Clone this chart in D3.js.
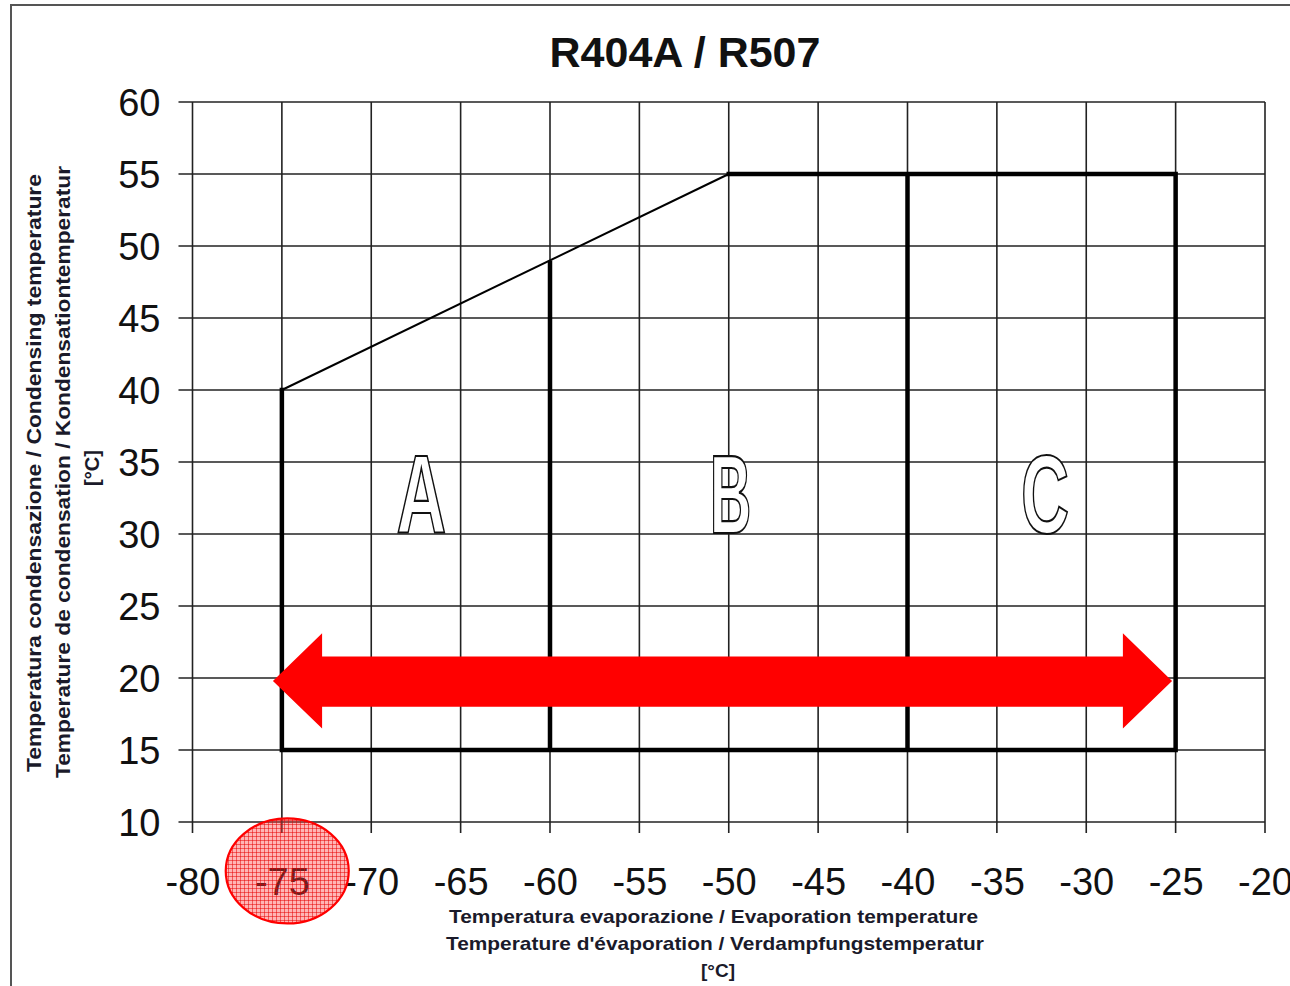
<!DOCTYPE html>
<html><head><meta charset="utf-8">
<script src="https://cdn.jsdelivr.net/npm/d3@7/dist/d3.min.js"></script>
<style>html,body{margin:0;padding:0;background:#fff;overflow:hidden}</style>
</head><body>
<svg id="c" width="1290" height="986"></svg>
<script>
// ---- data ----
const title = "R404A / R507";
const xTicks = [-80,-75,-70,-65,-60,-55,-50,-45,-40,-35,-30,-25,-20];
const yTicks = [10,15,20,25,30,35,40,45,50,55,60];
const xTitleLines = ["Temperatura evaporazione / Evaporation temperature",
                     "Temperature d'évaporation / Verdampfungstemperatur","[°C]"];
const yTitleLines = ["Temperatura condensazione / Condensing temperature",
                     "Temperature de condensation / Kondensationtemperatur","[°C]"];
// envelope outline (thick part)
const envX = [-50,-25,-25,-75,-75];
const envY = [ 55, 55, 15, 15, 40];
// diagonal (thin)
const diagX = [-75,-50];
const diagY = [ 40, 55];
// zone dividers
const divX = [-60,-40];
const divTop = [49,55];
const divBottom = [15,15];
// zone labels
const zoneNames = ["A","B","C"];
const zoneX = [-67.2,-49.9,-32.3];
const zoneY = [30.1,30.1,30.1];
// red double arrow
const arrowX = [-75.5,-72.75,-72.75,-27.95,-27.95,-25.2,-27.95,-27.95,-72.75,-72.75];
const arrowY = [19.8,23.1,21.5,21.5,23.1,19.8,16.5,18.0,18.0,16.5];
// highlight marker
const markX = -74.7, markY = 6.6;

// ---- layout ----
const svg = d3.select("#c");
const x = d3.scaleLinear().domain([-80,-20]).range([192.5,1265]);
const y = d3.scaleLinear().domain([10,60]).range([822,102]);

// outer frame
svg.append("rect").attr("x",11).attr("y",5).attr("width",1320).attr("height",1020)
  .attr("fill","none").attr("stroke","#555").attr("stroke-width",2);

// title
svg.append("text").attr("x",685).attr("y",67).attr("text-anchor","middle")
  .attr("font-family","Liberation Sans, Arial, sans-serif").attr("font-weight","bold")
  .attr("font-size",43).attr("fill","#111").text(title);

// grid
const g = svg.append("g");
g.selectAll(".vg").data(xTicks).join("line")
  .attr("x1",d=>x(d)).attr("x2",d=>x(d)).attr("y1",y(60)).attr("y2",y(10)+11)
  .attr("stroke","#222").attr("stroke-width",1.6);
g.selectAll(".hg").data(yTicks).join("line")
  .attr("x1",x(-80)-14).attr("x2",x(-20)).attr("y1",d=>y(d)).attr("y2",d=>y(d))
  .attr("stroke","#222").attr("stroke-width",1.6);

// axes labels via d3 axes (no domain lines, ticks handled above)
const fmt = d => String(d);
const xa = svg.append("g").attr("transform",`translate(0,${y(10)})`)
  .call(d3.axisBottom(x).tickValues(xTicks).tickSize(0).tickPadding(0).tickFormat(fmt));
xa.select(".domain").remove();
xa.selectAll("text").attr("y",null).attr("dy",null).attr("transform","translate(0,73)")
  .attr("font-family","Liberation Sans, Arial, sans-serif").attr("font-size",38).attr("fill","#111");
const ya = svg.append("g").attr("transform",`translate(${x(-80)},0)`)
  .call(d3.axisLeft(y).tickValues(yTicks).tickSize(0).tickPadding(32).tickFormat(fmt));
ya.select(".domain").remove();
ya.selectAll("text").attr("dy","0.36em")
  .attr("font-family","Liberation Sans, Arial, sans-serif").attr("font-size",38).attr("fill","#111");

// envelope
const line = d3.line().x(d=>x(d[0])).y(d=>y(d[1]));
svg.append("path").attr("d",line(envX.map((v,i)=>[v,envY[i]])))
  .attr("fill","none").attr("stroke","#000").attr("stroke-width",4.5).attr("stroke-linejoin","miter").attr("stroke-linecap","square");
svg.append("path").attr("d",line(diagX.map((v,i)=>[v,diagY[i]])))
  .attr("fill","none").attr("stroke","#000").attr("stroke-width",2);
svg.selectAll(".div").data(divX).join("line")
  .attr("x1",d=>x(d)).attr("x2",d=>x(d)).attr("y1",(d,i)=>y(divTop[i])).attr("y2",(d,i)=>y(divBottom[i]))
  .attr("stroke","#000").attr("stroke-width",4.5);

// zone letters
svg.selectAll(".zl").data(zoneNames).join("text")
  .attr("transform",(d,i)=>`translate(${x(zoneX[i])},${y(zoneY[i])}) scale(${[0.62,0.52,0.6][i]},1)`)
  .attr("text-anchor","middle")
  .attr("font-family","Liberation Sans Narrow, Liberation Sans, Arial, sans-serif").attr("font-weight","bold")
  .attr("font-size",111).attr("fill","#fff").attr("stroke","#111").attr("stroke-width",2.2)
  .text(d=>d);

// red arrow
svg.append("path").attr("d",line(arrowX.map((v,i)=>[v,arrowY[i]]))+"Z").attr("fill","#ff0000");

// axis titles
svg.selectAll(".xt").data(xTitleLines).join("text")
  .attr("x",(d,i)=>[713.5,715,718][i]).attr("y",(d,i)=>923+i*27)
  .attr("text-anchor","middle").attr("font-family","Liberation Sans, Arial, sans-serif")
  .attr("font-weight","bold").attr("font-size",19).attr("fill","#1a1a2a")
  .attr("textLength",(d,i)=>[529,538,null][i]).attr("lengthAdjust","spacingAndGlyphs")
  .text(d=>d);
svg.selectAll(".yt").data(yTitleLines).join("text")
  .attr("transform",(d,i)=>`translate(${[41,70,99][i]},${[473,472,468][i]}) rotate(-90)`)
  .attr("text-anchor","middle").attr("font-family","Liberation Sans, Arial, sans-serif")
  .attr("font-weight","bold").attr("font-size",20).attr("fill","#1a1a2a")
  .attr("textLength",(d,i)=>[598,612,null][i]).attr("lengthAdjust","spacingAndGlyphs")
  .text(d=>d);

// highlight ellipse with hatch pattern
const defs = svg.append("defs");
const pat = defs.append("pattern").attr("id","hatch").attr("patternUnits","userSpaceOnUse")
  .attr("width",4).attr("height",4);
pat.append("rect").attr("width",4).attr("height",4).attr("fill","rgba(255,60,60,0.38)");
pat.append("path").attr("d","M0,0.5H4M0.5,0V4").attr("stroke","rgba(230,0,0,0.5)").attr("stroke-width",1);
svg.append("ellipse").attr("cx",x(markX)).attr("cy",y(markY)).attr("rx",61.5).attr("ry",52.5)
  .attr("fill","url(#hatch)").attr("stroke","#ff0000").attr("stroke-width",2.2);
</script>
</body></html>
